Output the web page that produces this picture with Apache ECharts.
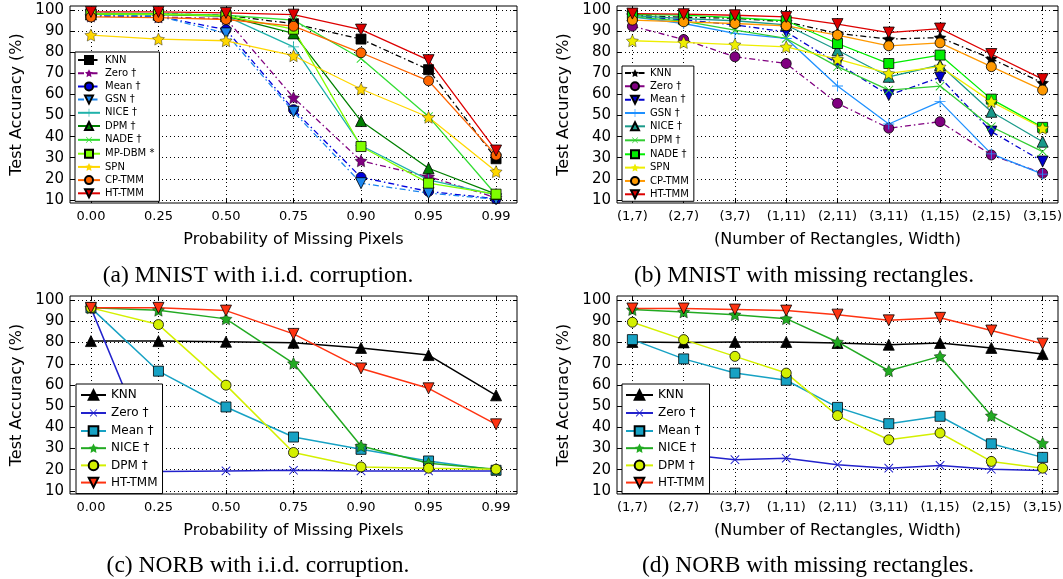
<!DOCTYPE html>
<html>
<head>
<meta charset="utf-8">
<script src="https://cdn.jsdelivr.net/npm/echarts@6/dist/echarts.min.js"></script>
<style>
  html, body { margin: 0; background: #fff; }
  #chart { width: 1063px; height: 579px; }
</style>
</head>
<body>
<div id="chart"></div>
<script>
// categories
const iidLabels = ['0.00', '0.25', '0.50', '0.75', '0.90', '0.95', '0.99']
const rectLabels = ['(1,7)', '(2,7)', '(3,7)', '(1,11)', '(2,11)', '(3,11)', '(1,15)', '(2,15)', '(3,15)']
const yTicks = [10, 20, 30, 40, 50, 60, 70, 80, 90, 100]

// (a) MNIST, i.i.d. corruption
const aKnn = [98.5, 98.3, 97.6, 93.6, 86.3, 71.8, 29.5]
const aZero = [97.2, 96.8, 96.0, 58.5, 28.5, 21.0, 11.0]
const aMean = [97.5, 97.0, 90.8, 52.8, 20.7, 14.0, 10.5]
const aGsn = [97.6, 97.2, 89.0, 51.8, 17.9, 13.2, 10.3]
const aNice = [98.2, 98.0, 97.2, 82.6, 35.8, 19.5, 12.4]
const aDpm = [98.0, 97.9, 97.2, 89.0, 47.4, 25.0, 12.7]
const aNade = [98.5, 98.4, 97.6, 95.3, 77.1, 49.5, 12.4]
const aMpdbm = [98.1, 98.0, 97.3, 91.0, 35.3, 17.9, 12.7]
const aSpn = [88.2, 86.3, 85.5, 78.4, 62.6, 49.2, 23.4]
const aCptmm = [96.8, 96.5, 95.6, 92.4, 79.8, 66.5, 31.2]
const aHttmm = [99.2, 99.2, 98.7, 97.9, 90.8, 76.3, 33.4]

// (b) MNIST, missing rectangles
const bKnn = [97.6, 96.6, 96.2, 94.5, 89.0, 86.3, 87.0, 77.0, 65.5]
const bZero = [92.4, 86.1, 77.9, 74.7, 55.8, 44.0, 47.1, 31.3, 22.6]
const bMean = [97.0, 95.5, 93.0, 89.7, 74.7, 59.7, 68.1, 42.4, 28.2]
const bGsn = [96.8, 93.7, 89.0, 86.6, 64.0, 46.0, 56.6, 31.8, 22.2]
const bNice = [97.5, 96.0, 95.0, 93.0, 81.0, 68.4, 74.0, 51.8, 37.6]
const bDpm = [96.8, 94.8, 90.5, 86.6, 73.2, 62.1, 64.0, 44.7, 32.9]
const bNade = [98.0, 97.7, 96.5, 95.0, 84.2, 74.7, 78.7, 57.8, 44.4]
const bSpn = [85.5, 84.7, 83.7, 82.6, 76.8, 70.0, 73.2, 56.6, 44.0]
const bCptmm = [95.3, 94.5, 93.7, 92.6, 88.2, 83.1, 84.5, 73.2, 62.1]
const bHttmm = [98.4, 98.1, 97.6, 96.8, 93.4, 89.4, 91.3, 79.2, 67.3]

// (c) NORB, i.i.d. corruption
const cKnn = [80.7, 80.7, 80.4, 79.9, 77.5, 74.1, 55.1]
const cZero = [96.4, 19.1, 19.4, 19.7, 19.4, 19.4, 19.4]
const cMean = [96.4, 66.5, 49.6, 35.4, 29.6, 24.1, 19.7]
const cNice = [96.4, 95.3, 91.2, 70.2, 31.2, 23.0, 20.2]
const cDpm = [96.4, 88.5, 59.9, 28.1, 21.3, 20.7, 20.2]
const cHttmm = [96.4, 96.4, 95.1, 84.1, 67.8, 58.4, 41.4]

// (d) NORB, missing rectangles
const dKnn = [80.3, 80.1, 80.3, 80.3, 79.8, 79.0, 79.8, 77.5, 74.6]
const dZero = [29.0, 27.3, 24.7, 25.4, 22.3, 20.7, 22.0, 20.2, 19.6]
const dMean = [81.4, 72.3, 65.6, 62.2, 49.4, 41.7, 45.2, 32.2, 25.8]
const dNice = [95.6, 94.5, 93.2, 91.3, 80.3, 66.7, 73.5, 45.5, 32.5]
const dDpm = [89.6, 81.4, 73.5, 65.6, 45.5, 34.1, 37.3, 23.9, 20.7]
const dHttmm = [96.1, 96.1, 95.6, 95.1, 93.2, 90.5, 91.7, 85.7, 79.5]

// markers
const STAR = 'path://M50,0L64.7,29.8L97.6,34.5L73.8,57.7L79.4,90.5L50,75L20.6,90.5L26.2,57.7L2.4,34.5L35.3,29.8Z'
const PLUS = 'path://M46,0H54V46H100V54H54V100H46V54H0V46H46Z'
const DASHDOT = [6, 3, 1.5, 3]
const SANS = 'DejaVu Sans'

// panel specs: [name, data, color, marker, dash-dot?]
const panels = [
  {
    id: 'a', labels: iidLabels, grid: { left: 70, top: 6, width: 447, height: 197 },
    xName: 'Probability of Missing Pixels', pad: 0.31, lw: 1.3, yGap: 45,
    legend: { left: 75, top: 52, itemWidth: 22, itemHeight: 10, itemGap: 3.2, fontSize: 10, padding: [3, 5, 3, 2] },
    lines: [
      ['KNN', aKnn, '#000000', 'rect', true],
      ['Zero †', aZero, '#800080', 'star', true],
      ['Mean †', aMean, '#0000dd', 'circle', true],
      ['GSN †', aGsn, '#1c86ee', 'down', true],
      ['NICE †', aNice, '#20b2aa', 'plus', false],
      ['DPM †', aDpm, '#008000', 'triangle', false],
      ['NADE †', aNade, '#32dd32', 'x', false],
      ['MP-DBM *', aMpdbm, '#7fff00', 'rect', false],
      ['SPN', aSpn, '#ffd700', 'star', false],
      ['CP-TMM', aCptmm, '#ff6600', 'circle', false],
      ['HT-TMM', aHttmm, '#dd0000', 'down', false],
    ],
  },
  {
    id: 'b', labels: rectLabels, grid: { left: 617, top: 6, width: 441, height: 197 },
    xName: '(Number of Rectangles, Width)', pad: 0.3, lw: 1.3, yGap: 45,
    legend: { left: 622, top: 66, itemWidth: 20, itemHeight: 10, itemGap: 3.33, fontSize: 10, padding: [2, 5, 2, 2] },
    lines: [
      ['KNN', bKnn, '#000000', 'star', true],
      ['Zero †', bZero, '#800080', 'circle', true],
      ['Mean †', bMean, '#0000cd', 'down', true],
      ['GSN †', bGsn, '#1e90ff', 'plus', false],
      ['NICE †', bNice, '#1a9a8a', 'triangle', false],
      ['DPM †', bDpm, '#32cd32', 'x', false],
      ['NADE †', bNade, '#00ee00', 'rect', false],
      ['SPN', bSpn, '#eeee00', 'star', false],
      ['CP-TMM', bCptmm, '#ff9900', 'circle', false],
      ['HT-TMM', bHttmm, '#dd0000', 'down', false],
    ],
  },
  {
    id: 'c', labels: iidLabels, grid: { left: 70, top: 296, width: 447, height: 198 },
    xName: 'Probability of Missing Pixels', pad: 0.31, lw: 1.5, yGap: 45,
    legend: { left: 76, top: 384, itemWidth: 25, itemHeight: 12, itemGap: 5.2, fontSize: 12, padding: [5, 5, 5, 4] },
    lines: [
      ['KNN', cKnn, '#000000', 'triangle', false],
      ['Zero †', cZero, '#2222cc', 'x', false],
      ['Mean †', cMean, '#17a2c4', 'rect', false],
      ['NICE †', cNice, '#22aa22', 'star', false],
      ['DPM †', cDpm, '#d4f000', 'circle', false],
      ['HT-TMM', cHttmm, '#ff3311', 'down', false],
    ],
  },
  {
    id: 'd', labels: rectLabels, grid: { left: 617, top: 296, width: 441, height: 198 },
    xName: '(Number of Rectangles, Width)', pad: 0.3, lw: 1.5, yGap: 45,
    legend: { left: 622, top: 384, itemWidth: 27, itemHeight: 12, itemGap: 5.2, fontSize: 12, padding: [5, 5, 5, 3] },
    lines: [
      ['KNN', dKnn, '#000000', 'triangle', false],
      ['Zero †', dZero, '#2222cc', 'x', false],
      ['Mean †', dMean, '#17a2c4', 'rect', false],
      ['NICE †', dNice, '#22aa22', 'star', false],
      ['DPM †', dDpm, '#d4f000', 'circle', false],
      ['HT-TMM', dHttmm, '#ff3311', 'down', false],
    ],
  },
]

function markerStyle(kind) {
  switch (kind) {
    case 'rect': return { symbol: 'rect', size: 10, rotate: 0, edge: 0.8 }
    case 'circle': return { symbol: 'circle', size: 10, rotate: 0, edge: 0.8 }
    case 'triangle': return { symbol: 'triangle', size: 11, rotate: 0, edge: 0.8 }
    case 'down': return { symbol: 'triangle', size: 11, rotate: 180, edge: 0.8 }
    case 'star': return { symbol: STAR, size: 12, rotate: 0, edge: 0.4 }
    case 'plus': return { symbol: PLUS, size: 11, rotate: 0, edge: 0 }
    case 'x': return { symbol: PLUS, size: 12, rotate: 45, edge: 0 }
  }
}

const grids = []
const xAxes = []
const yAxes = []
const series = []
const legends = []

panels.forEach((p, g) => {
  grids.push({ ...p.grid, show: true, borderColor: '#000', borderWidth: 1, backgroundColor: 'transparent', containLabel: false, outerBoundsMode: 'none' })
  const n = p.labels.length
  const idx = p.labels.map((_, i) => i)

  xAxes.push({
    type: 'value', gridIndex: g, position: 'bottom', min: -p.pad, max: n - 1 + p.pad,
    axisLine: { show: false, onZero: false },
    axisTick: { show: true, inside: true, length: 4, customValues: idx, lineStyle: { color: '#000' } },
    axisLabel: { customValues: idx, formatter: v => p.labels[Math.round(v)], color: '#000', fontSize: 13, fontFamily: SANS, margin: 7 },
    splitLine: { show: true, lineStyle: { color: '#000', type: [1, 3], width: 1 } },
    name: p.xName, nameLocation: 'middle', nameGap: 29,
    nameTextStyle: { color: '#000', fontSize: 16, fontFamily: SANS },
  })
  xAxes.push({
    type: 'value', gridIndex: g, position: 'top', min: -p.pad, max: n - 1 + p.pad,
    axisLine: { show: false, onZero: false },
    axisTick: { show: true, inside: true, length: 4, customValues: idx, lineStyle: { color: '#000' } },
    axisLabel: { show: false }, splitLine: { show: false },
  })
  yAxes.push({
    type: 'value', gridIndex: g, position: 'left', min: 8.5, max: 102,
    axisLine: { show: false, onZero: false },
    axisTick: { show: true, inside: true, length: 4, customValues: yTicks, lineStyle: { color: '#000' } },
    axisLabel: { customValues: yTicks, color: '#000', fontSize: 15, fontFamily: SANS, margin: 6 },
    splitLine: { show: true, lineStyle: { color: '#000', type: [1, 3], width: 1 } },
    name: 'Test Accuracy (%)', nameLocation: 'middle', nameGap: p.yGap,
    nameTextStyle: { color: '#000', fontSize: 16, fontFamily: SANS },
  })
  yAxes.push({
    type: 'value', gridIndex: g, position: 'right', min: 8.5, max: 102,
    axisLine: { show: false, onZero: false },
    axisTick: { show: true, inside: true, length: 4, customValues: yTicks, lineStyle: { color: '#000' } },
    axisLabel: { show: false }, splitLine: { show: false },
  })

  const legendItems = []
  p.lines.forEach(([name, values, color, kind, dashed]) => {
    const m = markerStyle(kind)
    const full = p.id + ':' + name
    // small stars in the legend read better without the black edge
    legendItems.push(kind === 'star' ? { name: full, itemStyle: { borderWidth: 0 } } : { name: full })
    series.push({
      type: 'line', name: full, xAxisIndex: g * 2, yAxisIndex: g * 2,
      data: values.map((v, i) => [i, v]),
      symbol: m.symbol, symbolSize: m.size, symbolRotate: m.rotate, showAllSymbol: true,
      itemStyle: { color, borderColor: m.edge ? '#000' : color, borderWidth: m.edge },
      lineStyle: { color, width: p.lw, type: dashed ? DASHDOT : 'solid' },
      emphasis: { disabled: true },
      clip: false,
    })
  })

  legends.push({
    data: legendItems, formatter: s => s.slice(2),
    orient: 'vertical', left: p.legend.left, top: p.legend.top,
    itemWidth: p.legend.itemWidth, itemHeight: p.legend.itemHeight, itemGap: p.legend.itemGap,
    padding: p.legend.padding, borderColor: '#000', borderWidth: 1, borderRadius: 0,
    backgroundColor: '#fff', selectedMode: false, z: 10,
    textStyle: { color: '#000', fontSize: p.legend.fontSize, fontFamily: SANS, lineHeight: p.legend.itemHeight },
  })
})

const captions = [
  ['(a) MNIST with i.i.d. corruption.', 258, 276],
  ['(b) MNIST with missing rectangles.', 804, 276],
  ['(c) NORB with i.i.d. corruption.', 258, 566],
  ['(d) NORB with missing rectangles.', 808, 566],
]

const chart = echarts.init(document.getElementById('chart'))
chart.setOption({
  animation: false,
  backgroundColor: '#fff',
  grid: grids,
  xAxis: xAxes,
  yAxis: yAxes,
  legend: legends,
  series,
  graphic: captions.map(([text, x, y]) => ({
    type: 'text', x, y,
    style: { text, textAlign: 'center', textVerticalAlign: 'middle', fill: '#000', font: '23.5px "Liberation Serif"' },
  })),
})
</script>
</body>
</html>
